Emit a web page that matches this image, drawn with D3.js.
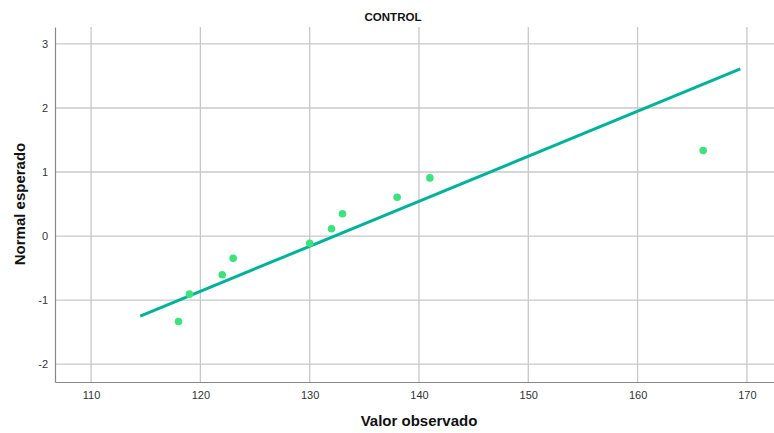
<!DOCTYPE html>
<html><head><meta charset="utf-8">
<script src="https://cdn.jsdelivr.net/npm/d3@7"></script>
<style>body{margin:0;background:#fff}svg{display:block;font-family:"Liberation Sans",Arial,sans-serif}</style>
</head><body><svg id="c" width="774" height="433"></svg>
<script>
const obsValues = [118, 119, 122, 123, 130, 132, 133, 138, 141, 166];
const expNormal = [-1.335, -0.908, -0.605, -0.349, -0.114, 0.114, 0.349, 0.605, 0.908, 1.335];
const lineX = [114.5, 169.4];
const lineY = [-1.25, 2.61];
const xTicks = [110, 120, 130, 140, 150, 160, 170];
const yTicks = [-2, -1, 0, 1, 2, 3];

const svg = d3.select("#c");
const L = 55, R = 774, T = 27, B = 382;
const x = d3.scaleLinear().domain([106.7, 172.48]).range([L, R]);
const y = d3.scaleLinear().domain([-2.28, 3.265]).range([B, T]);

// grid
svg.append("g").selectAll("line").data(xTicks).join("line")
  .attr("x1", d => x(d)).attr("x2", d => x(d)).attr("y1", T).attr("y2", B)
  .attr("stroke", "#c8c8c8").attr("stroke-width", 1.3);
svg.append("g").selectAll("line").data(yTicks).join("line")
  .attr("x1", L).attr("x2", R).attr("y1", d => y(d)).attr("y2", d => y(d))
  .attr("stroke", "#c8c8c8").attr("stroke-width", 1.3);

// axes
const fmt = d => String(d);
const xa = svg.append("g").attr("transform", `translate(0,${B})`)
  .call(d3.axisBottom(x).tickValues(xTicks).tickFormat(fmt).tickSize(0).tickPadding(9));
const ya = svg.append("g").attr("transform", `translate(${L},0)`)
  .call(d3.axisLeft(y).tickValues(yTicks).tickFormat(fmt).tickSize(0).tickPadding(7));
[xa, ya].forEach(a => {
  a.select(".domain").attr("stroke", "#888").attr("stroke-width", 1.2);
  a.selectAll("text").attr("font-size", 11).attr("fill", "#333")
   .attr("font-family", '"Liberation Sans",Arial,sans-serif');
});

// fit line
svg.append("line")
  .attr("x1", x(lineX[0])).attr("y1", y(lineY[0]))
  .attr("x2", x(lineX[1])).attr("y2", y(lineY[1]))
  .attr("stroke", "#00b39b").attr("stroke-width", 3);

// points
svg.append("g").selectAll("circle").data(obsValues).join("circle")
  .attr("cx", d => x(d)).attr("cy", (d, i) => y(expNormal[i])).attr("r", 3.8)
  .attr("fill", "#3ce27b");

// titles
svg.append("text").attr("x", 393).attr("y", 21).attr("text-anchor", "middle")
  .attr("font-size", 11.5).attr("font-weight", "bold").attr("fill", "#111").text("CONTROL");
svg.append("text").attr("x", 419).attr("y", 426).attr("text-anchor", "middle")
  .attr("font-size", 15).attr("font-weight", "bold").attr("fill", "#111").text("Valor observado");
svg.append("text").attr("transform", "translate(25,204) rotate(-90)").attr("text-anchor", "middle")
  .attr("font-size", 15).attr("font-weight", "bold").attr("fill", "#111").text("Normal esperado");
</script></body></html>
